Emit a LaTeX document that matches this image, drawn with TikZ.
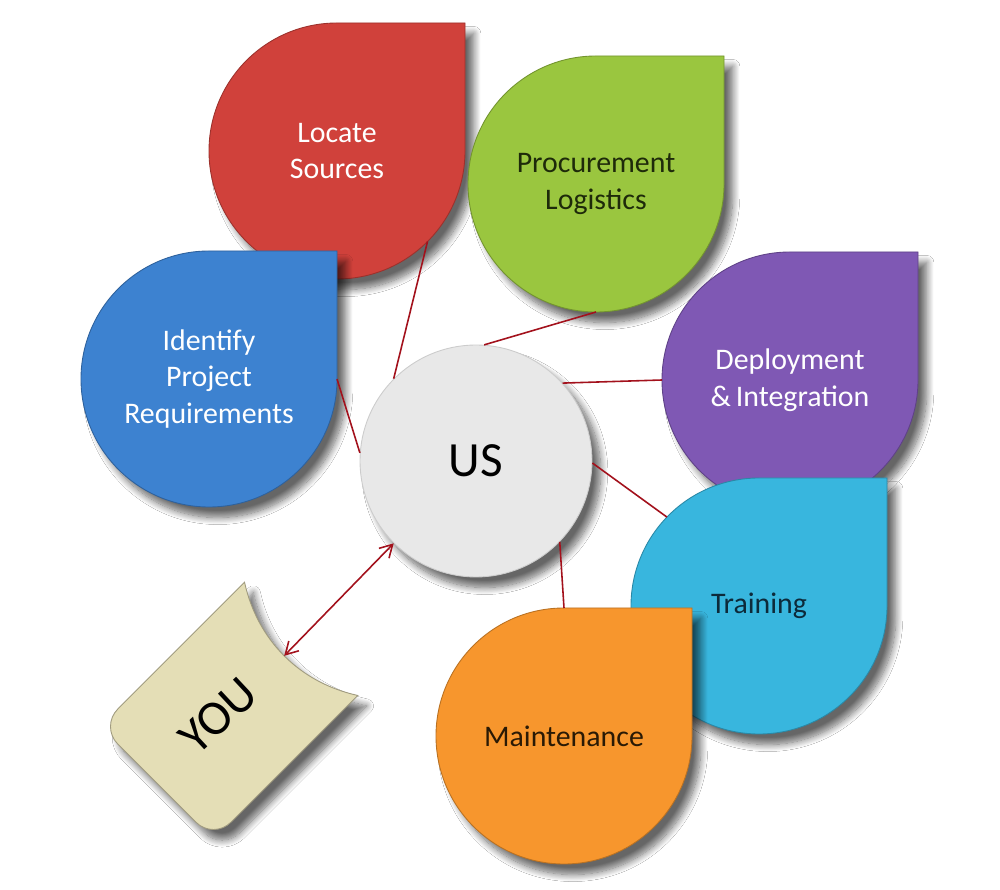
\documentclass[tikz,border=0pt]{standalone}
\usepackage{fontspec}
\setmainfont{Carlito}
\usetikzlibrary{arrows.meta,shadows.blur}
\definecolor{cRed}{HTML}{D0413B}
\definecolor{cGreen}{HTML}{9AC63F}
\definecolor{cBlue}{HTML}{3D82D0}
\definecolor{cPurple}{HTML}{7F58B4}
\definecolor{cCyan}{HTML}{38B6DE}
\definecolor{cOrange}{HTML}{F7962D}
\definecolor{cYou}{HTML}{E4DEB6}
\definecolor{cUs}{HTML}{E8E8E8}
\definecolor{cLink}{HTML}{A3111C}
\definecolor{tGreen}{HTML}{1E2A0A}
\definecolor{tCyan}{HTML}{0D2A3A}
\definecolor{tOrange}{HTML}{2A1A05}
\tikzset{
  drop/.style={blur shadow={shadow xshift=5pt,shadow yshift=-6pt,shadow blur radius=4pt,shadow blur steps=12,shadow opacity=60}},
  lbl/.style={align=center,font=\fontsize{17}{21}\selectfont,inner sep=0pt},
  big/.style={font=\fontsize{28}{32}\selectfont,inner sep=0pt},
  link/.style={draw=cLink,line width=0.9pt},
  barb/.style={{Straight Barb[length=7pt,width=8pt]}-{Straight Barb[length=7pt,width=8pt]}}
}
\newcommand\tdrop[6]{%
  \fill[#4,drop,draw=#4!75!black,line width=0.5pt] (#2,#3+128) -- (#2+128,#3+128) -- (#2+128,#3)
    arc[start angle=0,end angle=-270,radius=128] -- cycle;
  \node[lbl,text=#5] (#1) at (#2,#3) {#6};
}
\begin{document}
\begin{tikzpicture}[x=0.02cm,y=0.02cm]
\fill[white] (0,0) rectangle (1000,889);
\useasboundingbox (0,0) rectangle (1000,889);

\tdrop{red}{337}{738}{cRed}{white}{Locate\\Sources}
\tdrop{green}{596}{705}{cGreen}{tGreen}{Procurement\\Logistics}
\tdrop{blue}{209}{510}{cBlue}{white}{Identify\\Project\\Requirements}
\tdrop{purple}{790}{509}{cPurple}{white}{Deployment\\\&\,Integration}
\tdrop{cyan}{759}{283}{cCyan}{tCyan}{Training}
\tdrop{orange}{564}{153}{cOrange}{tOrange}{Maintenance}

% YOU tag
\begin{scope}[shift={(229,178)},rotate=-45]
  \fill[cYou,drop,draw=cYou!70!black,line width=0.5pt]
    (-80,102) .. controls (-30,70) and (30,70) .. (80,102) -- (80,0)
    [rounded corners=14pt] -- (80,-102) -- (-80,-102) -- (-80,0) [sharp corners] -- cycle;
  \coordinate (you-e) at (0,78);
  \node[big,rotate=43] (you) at (-4,-11) {YOU};
\end{scope}

% US circle
\node[circle,minimum size=4.64cm,inner sep=0pt,fill=cUs,draw=black!20,line width=0.5pt,drop,big] (us) at (476,428) {US};

% connector end points on the shapes
\path (red) ++(-45:128) coordinate (red-e);
\path (green) ++(-90:128) coordinate (green-e);
\path (blue) ++(0:128) coordinate (blue-e);
\path (purple) ++(180:128) coordinate (purple-e);
\path (cyan) ++(136:128) coordinate (cyan-e);
\path (orange) ++(90:128) coordinate (orange-e);

\draw[link] (red-e) -- (us.135);
\draw[link] (green-e) -- (us.86);
\draw[link] (blue-e) -- (us.176);
\draw[link] (purple-e) -- (us.42);
\draw[link] (cyan-e) -- (us.-1);
\draw[link] (orange-e) -- (us.-44);
\draw[link,barb] (you-e) -- (us.225);
\end{tikzpicture}
\end{document}
